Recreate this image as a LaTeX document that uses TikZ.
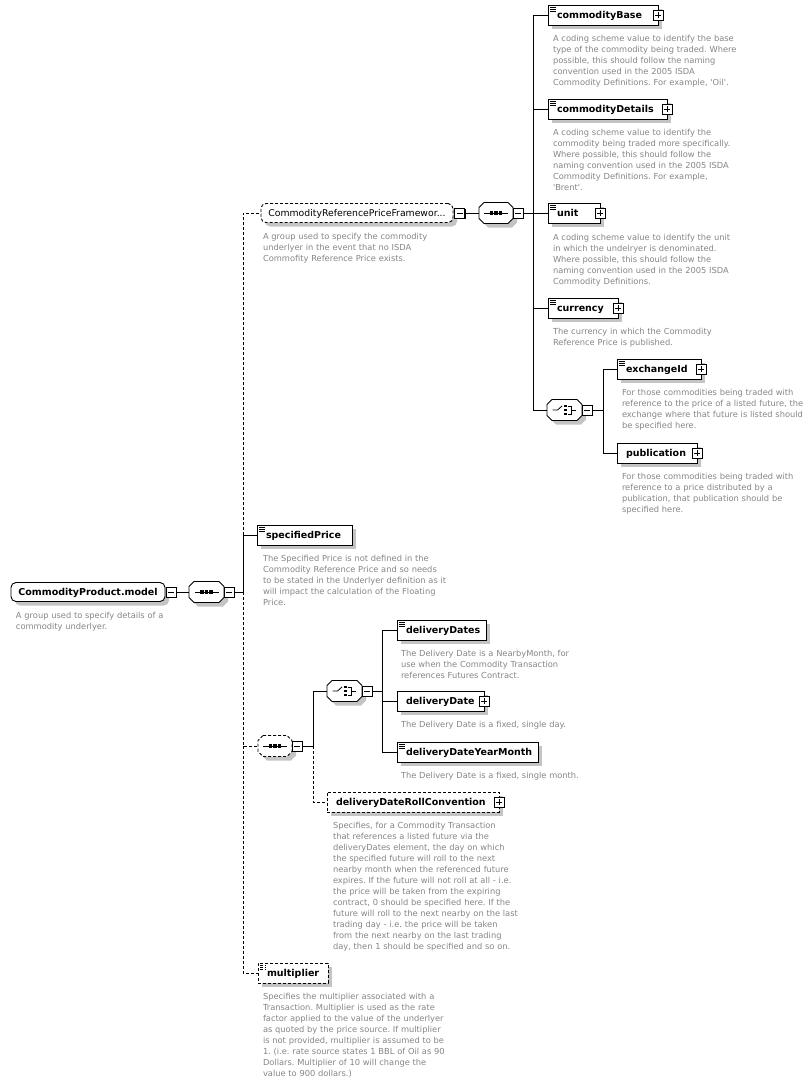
\documentclass[tikz,border=0pt]{standalone}
\usepackage{fontspec}
\setmainfont{DejaVu Sans}
\usetikzlibrary{shadows}
\definecolor{desccol}{HTML}{858585}
\definecolor{shd}{HTML}{C4C4C4}
\newcommand\sq{{\XeTeXglyph\XeTeXglyphindex "quotesingle"\relax}}
\newcommand\octo[2][]{%
  \fill[shd,transform canvas={shift={(4pt,-4pt)}}] ([xshift=5pt]#2.north west) -- ([xshift=-5pt]#2.north east) -- ([yshift=-5pt]#2.north east) -- ([yshift=5pt]#2.south east) -- ([xshift=-5pt]#2.south east) -- ([xshift=5pt]#2.south west) -- ([yshift=5pt]#2.south west) -- ([yshift=-5pt]#2.north west) -- cycle;
  \draw[fill=white,#1] ([xshift=5pt]#2.north west) -- ([xshift=-5pt]#2.north east) -- ([yshift=-5pt]#2.north east) -- ([yshift=5pt]#2.south east) -- ([xshift=-5pt]#2.south east) -- ([xshift=5pt]#2.south west) -- ([yshift=5pt]#2.south west) -- ([yshift=-5pt]#2.north west) -- cycle;}
\tikzset{
  seqicon/.pic={
    \draw[line width=0.8pt] (-12,0) -- (12,0);
    \foreach \xx in {-4.5,0,4.5} \fill (\xx-1.6,-1.6) rectangle (\xx+1.6,1.6);
  },
  choiceicon/.pic={
    \draw[line width=0.8pt] (-12,0) -- (-7,0) -- (-2.5,-4);
    \foreach \yy in {-4,0,4} \fill (-0.6,\yy-1.3) rectangle (2,\yy+1.3);
    \draw[line width=0.8pt] (3.2,-4) -- (6.5,-4) -- (6.5,4) -- (3.2,4) (6.5,0) -- (11,0);
  }
}
\begin{document}
\frenchspacing
\begin{tikzpicture}[x=1pt,y=-1pt,line width=0.9pt,
  every node/.style={inner sep=0pt,outer sep=0pt},
  shad/.style={general shadow={fill=shd,shadow xshift=4pt,shadow yshift=-4pt}},
  opt/.style={dash pattern=on 3pt off 2pt},
  el/.style={draw,fill=white,rectangle,minimum height=20pt,anchor=west,inner xsep=9pt,
    align=left,text height=8pt,text depth=1pt,font=\fontsize{9.5}{12}\selectfont\bfseries,shad},
  simple/.style={path picture={\foreach \d in {2,4,6}
      \draw[line width=0.7pt] ([xshift=2pt,yshift=-\d pt]path picture bounding box.north west) -- ++(6,0);}},
  grp/.style={draw,fill=white,rounded corners=5pt,minimum height=19pt,anchor=west,
    text height=8pt,text depth=1pt,shad},
  comp/.style={rectangle,minimum width=35pt,minimum height=21pt},
  pm/.style={draw,fill=white,rectangle,minimum size=10pt,
    general shadow={fill=black,shadow xshift=1.3pt,shadow yshift=-1.3pt}},
  minus/.style={pm,path picture={
      \draw[line width=0.8pt] ([xshift=2pt]path picture bounding box.west) -- ([xshift=-2pt]path picture bounding box.east);}},
  plus/.style={pm,path picture={
      \draw[line width=0.8pt] ([xshift=2pt]path picture bounding box.west) -- ([xshift=-2pt]path picture bounding box.east);
      \draw[line width=0.8pt] ([yshift=-2pt]path picture bounding box.north) -- ([yshift=2pt]path picture bounding box.south);}},
  desc/.style={anchor=base west,text width=240pt,align=left,
    font=\fontsize{8.3}{11}\selectfont,text=desccol}
]
\useasboundingbox (0,0) rectangle (811,1082);

% ---- root and first sequence
\node[grp,minimum width=154pt,font=\fontsize{9.5}{12}\selectfont\bfseries] (root) at (11,592) {CommodityProduct.model};
\node[minus,anchor=west] (rootm) at ([xshift=1pt]root.east) {};
\node[desc] (rootd) at (16,618) {A group used to specify details of a\\commodity underlyer.};
\node[comp] (seq1) at (206.5,592) {};
\octo{seq1}
\pic at (seq1.center) {seqicon};
\node[minus,anchor=west] (seq1m) at (seq1.east) {};
\coordinate (b1) at (243,592);

% ---- CommodityReferencePriceFramework
\node[grp,opt,minimum width=192pt,font=\fontsize{9.3}{12}\selectfont] (crpf) at (261,213) {CommodityReferencePriceFramewor...};
\node[minus,anchor=west] (crpfm) at ([xshift=1.5pt]crpf.east) {};
\node[desc] (crpfd) at (263,239) {A group used to specify the commodity\\underlyer in the event that no ISDA\\Commofity Reference Price exists.};
\node[comp,minimum width=34pt] (seq3) at (496,213) {};
\octo{seq3}
\pic at (seq3.center) {seqicon};
\node[minus,anchor=west] (seq3m) at (seq3.east) {};
\coordinate (b2) at (533,213);

\node[el,simple,text width=92pt] (cbase) at (548,15) {commodityBase};
\node[plus] (cbasep) at (cbase.east) {};
\node[desc] (cbased) at (553,41) {A coding scheme value to identify the base\\type of the commodity being traded. Where\\possible, this should follow the naming\\convention used in the 2005 ISDA\\Commodity Definitions. For example, \sq Oil\sq.};

\node[el,simple,text width=101pt] (cdet) at (548,109) {commodityDetails};
\node[plus] (cdetp) at (cdet.east) {};
\node[desc] (cdetd) at (553,135) {A coding scheme value to identify the\\commodity being traded more specifically.\\Where possible, this should follow the\\naming convention used in the 2005 ISDA\\Commodity Definitions. For example,\\\sq Brent\sq.};

\node[el,simple,text width=34pt] (unit) at (548,213) {unit};
\node[plus] (unitp) at (unit.east) {};
\node[desc] (unitd) at (553,240) {A coding scheme value to identify the unit\\in which the undelryer is denominated.\\Where possible, this should follow the\\naming convention used in the 2005 ISDA\\Commodity Definitions.};

\node[el,simple,text width=52pt] (curr) at (548,308) {currency};
\node[plus] (currp) at (curr.east) {};
\node[desc] (currd) at (553,334) {The currency in which the Commodity\\Reference Price is published.};

\node[comp] (ch1) at (564.5,410) {};
\octo{ch1}
\pic at (ch1.center) {choiceicon};
\node[minus,anchor=west] (ch1m) at (ch1.east) {};
\coordinate (b3) at (603,410);

\node[el,simple,text width=66pt] (exch) at (617,369) {exchangeId};
\node[plus] (exchp) at (exch.east) {};
\node[desc] (exchd) at (622,395) {For those commodities being traded with\\reference to the price of a listed future, the\\exchange where that future is listed should\\be specified here.};

\node[el,text width=62pt] (publ) at (617,453) {publication};
\node[plus] (publp) at (publ.east) {};
\node[desc] (publd) at (622,479) {For those commodities being traded with\\reference to a price distributed by a\\publication, that publication should be\\specified here.};

% ---- specifiedPrice
\node[el,simple,text width=77pt] (spec) at (257,535) {specifiedPrice};
\node[desc] (specd) at (263,561) {The Specified Price is not defined in the\\Commodity Reference Price and so needs\\to be stated in the Underlyer definition as it\\will impact the calculation of the Floating\\Price.};

% ---- optional sequence with delivery dates
\node[comp,minimum width=34pt] (seq2) at (275,746) {};
\octo[opt]{seq2}
\pic at (seq2.center) {seqicon};
\node[minus,anchor=west] (seq2m) at (seq2.east) {};
\coordinate (b4) at (313,746);

\node[comp] (ch2) at (344.5,691) {};
\octo{ch2}
\pic at (ch2.center) {choiceicon};
\node[minus,anchor=west] (ch2m) at (ch2.east) {};
\coordinate (b5) at (382,691);

\node[el,simple,text width=71pt] (ddates) at (397,630) {deliveryDates};
\node[desc] (ddatesd) at (401,656) {The Delivery Date is a NearbyMonth, for\\use when the Commodity Transaction\\references Futures Contract.};

\node[el,text width=69pt] (ddate) at (397,701) {deliveryDate};
\node[plus] (ddatep) at (ddate.east) {};
\node[desc] (ddated) at (401,727) {The Delivery Date is a fixed, single day.};

\node[el,simple,text width=123pt] (dym) at (397,752) {deliveryDateYearMonth};
\node[desc] (dymd) at (401,778) {The Delivery Date is a fixed, single month.};

\node[el,opt,text width=154pt] (roll) at (327,802) {deliveryDateRollConvention};
\node[plus] (rollp) at (roll.east) {};
\node[desc] (rolld) at (333,828) {Specifies, for a Commodity Transaction\\that references a listed future via the\\deliveryDates element, the day on which\\the specified future will roll to the next\\nearby month when the referenced future\\expires. If the future will not roll at all - i.e.\\the price will be taken from the expiring\\contract, 0 should be specified here. If the\\future will roll to the next nearby on the last\\trading day - i.e. the price will be taken\\from the next nearby on the last trading\\day, then 1 should be specified and so on.};

% ---- multiplier
\node[el,opt,simple,text width=52pt] (mult) at (258,973) {multiplier};
\node[desc] (multd) at (263,999) {Specifies the multiplier associated with a\\Transaction. Multiplier is used as the rate\\factor applied to the value of the underlyer\\as quoted by the price source. If multiplier\\is not provided, multiplier is assumed to be\\1. (i.e. rate source states 1 BBL of Oil as 90\\Dollars. Multiplier of 10 will change the\\value to 900 dollars.)};

% ---- connectors
\draw (rootm.east) -- (seq1.west);
\draw (seq1m.east) -- (b1);
\draw (b1) |- (spec.west);
\draw[opt] (b1 |- spec.west) |- (crpf.west);
\draw[opt] (b1) |- (seq2.west);
\draw[opt] (b1 |- seq2.west) |- (mult.west);

\draw (crpfm.east) -- (seq3.west);
\draw (seq3m.east) -- (b2);
\draw (b2) |- (cbase.west);
\draw (b2) |- (cdet.west);
\draw (b2) -- (unit.west);
\draw (b2) |- (curr.west);
\draw (b2) |- (ch1.west);

\draw (ch1m.east) -- (b3);
\draw (b3) |- (exch.west);
\draw (b3) |- (publ.west);

\draw (seq2m.east) -- (b4);
\draw (b4) |- (ch2.west);
\draw[opt] (b4) |- (roll.west);

\draw (ch2m.east) -- (b5);
\draw (b5) |- (ddates.west);
\draw (b5) |- (ddate.west);
\draw (b5) |- (dym.west);
\end{tikzpicture}
\end{document}
